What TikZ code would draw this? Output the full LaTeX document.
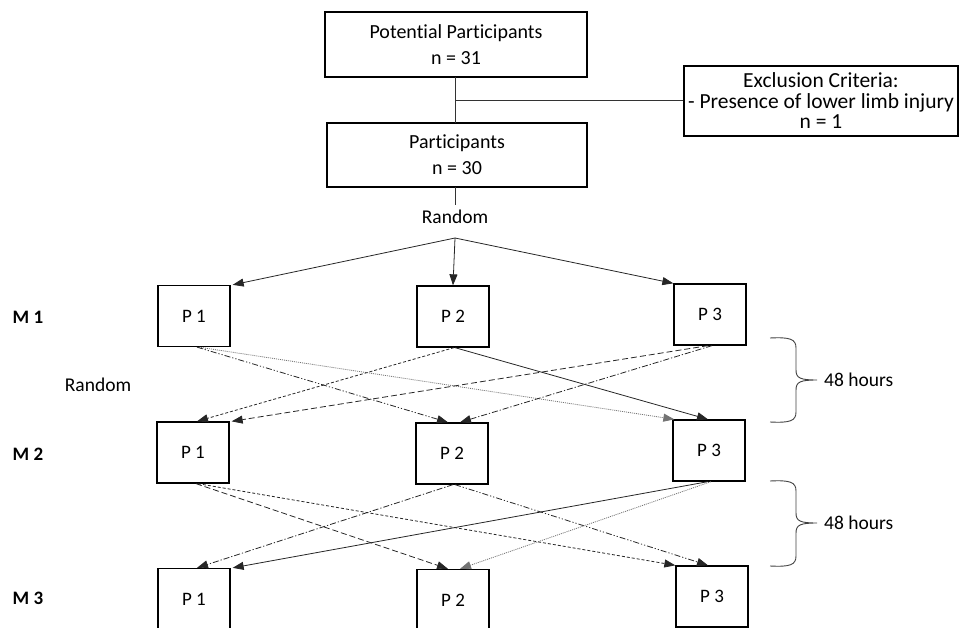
\documentclass[tikz,border=0pt]{standalone}
\usepackage{fontspec}
\setmainfont{Carlito}[Ligatures=NoCommon]
\usetikzlibrary{arrows.meta,calc}
\begin{document}
\begin{tikzpicture}[x=1pt,y=-1pt,
  box/.style={draw=black,line width=1.3pt,inner sep=0pt,align=center,fill=white},
  bigbox/.style={box,font=\fontsize{20}{26}\selectfont},
  pbox/.style={box,minimum width=72pt,minimum height=61pt,font=\fontsize{19}{22}\selectfont},
  lab/.style={font=\fontsize{19.5}{22}\selectfont,inner sep=0pt},
  mlab/.style={font=\fontsize{19}{22}\selectfont\bfseries,inner sep=0pt},
  thinline/.style={draw=black!80,line width=0.8pt},
  conn/.style={draw=black!85,line width=0.8pt,-{Triangle[length=11pt,width=8pt]}},
  lsolid/.style={conn},
  ldotted/.style={conn,draw=black!55,dash pattern=on 1pt off 1pt},
  lshort/.style={conn,dash pattern=on 3pt off 2pt},
  llong/.style={conn,dash pattern=on 6pt off 3pt},
  ldashdot/.style={conn,dash pattern=on 6pt off 2pt on 1.2pt off 2pt},
  ldashdotdot/.style={conn,dash pattern=on 6pt off 2pt on 1.2pt off 2pt on 1.2pt off 2pt},
  bracestyle/.style={draw=black!75,line width=0.9pt}
]
\useasboundingbox (0,0) rectangle (963,628);

% top boxes
\node[bigbox,minimum width=262pt,minimum height=65pt] (pot) at (456,44.5) {Potential Participants\\n = 31};
\node[bigbox,minimum width=260pt,minimum height=64pt] (part) at (457,155) {Participants\\n = 30};
\node[box,minimum width=274pt,minimum height=70pt,font=\fontsize{21.5}{20.5}\selectfont] (excl) at (821,101) {Exclusion Criteria:\\- Presence of lower limb injury\\n = 1};

\coordinate (j1) at (455,100);
\draw[thinline] (455,77) coordinate (potb) -- (455,123) coordinate (partt);
\draw[thinline] (j1) -- (excl.west |- j1);

\node[lab] (rand) at (455,217) {Random};
\draw[thinline] (455,187) coordinate (partb) -- (455,205) coordinate (randt);
\coordinate (split) at (455,238);

% level labels
\node[mlab] (m1) at (28,317) {M 1};
\node[mlab] (m2) at (28,454) {M 2};
\node[mlab] (m3) at (28,598) {M 3};
\node[lab] (rand2) at (98,385) {Random};

% P boxes
\node[pbox] (a1) at (194,316) {P 1};
\node[pbox] (a2) at (453,316.5) {P 2};
\node[pbox] (a3) at (710,314.5) {P 3};
\node[pbox] (b1) at (193,452.5) {P 1};
\node[pbox] (b2) at (452,453.5) {P 2};
\node[pbox] (b3) at (709,450.5) {P 3};
\node[pbox] (c1) at (194,599) {P 1};
\node[pbox] (c2) at (453,600) {P 2};
\node[pbox] (c3) at (712,596.5) {P 3};

% random arrows
\draw[lsolid] (split) -- ($(a1.north east)+(2,0)$);
\draw[lsolid] (split) -- (a2.north);
\draw[lsolid] (split) -- (a3.north west);

% M1 -> M2
\draw[ldotted] ($(a1.south)+(5,0)$) -- ($(b3.north west)+(2,0)$);
\draw[ldashdotdot] ($(a1.south)+(3,0)$) -- ($(b2.north)+(-4,0)$);
\draw[lshort] ($(a2.south)+(1,0)$) -- ($(b1.north)+(4,0)$);
\draw[lsolid] ($(a2.south)+(2,0)$) -- ($(b3.north)+(-1,0)$);
\draw[llong] ($(a3.south)+(-2,0)$) -- ($(b1.north east)+(2,0)$);
\draw[ldashdot] ($(a3.south)+(2,0)$) -- ($(b2.north)+(8,0)$);

% M2 -> M3
\draw[llong] ($(b1.south)+(3,0)$) -- ($(c2.north)+(-5,0)$);
\draw[lshort] ($(b1.south)+(5,0)$) -- ($(c3.north west)+(0,0)$);
\draw[ldashdot] ($(b2.south)+(1,0)$) -- ($(c1.north)+(3,0)$);
\draw[ldashdotdot] ($(b2.south)+(3,0)$) -- ($(c3.north)+(-4,0)$);
\draw[lsolid] ($(b3.south)+(-1,0)$) -- ($(c1.north east)+(2,0)$);
\draw[ldotted] ($(b3.south)+(2,0)$) -- ($(c2.north)+(7,0)$);

% braces
\draw[bracestyle] (770,338) .. controls (790,337) and (796,339) .. (796,348) -- (796,370)
  .. controls (796,378) and (800,380) .. (817,380)
  .. controls (800,380) and (796,382) .. (796,390) -- (796,412)
  .. controls (796,421) and (790,423) .. (770,422);
\node[lab,anchor=west] (h1) at (824,380) {48 hours};
\draw[bracestyle] (770,481) .. controls (790,480) and (796,482) .. (796,491) -- (796,513)
  .. controls (796,521) and (800,523) .. (817,523)
  .. controls (800,523) and (796,525) .. (796,533) -- (796,556)
  .. controls (796,565) and (790,567) .. (770,566);
\node[lab,anchor=west] (h2) at (824,523) {48 hours};
\end{tikzpicture}
\end{document}
